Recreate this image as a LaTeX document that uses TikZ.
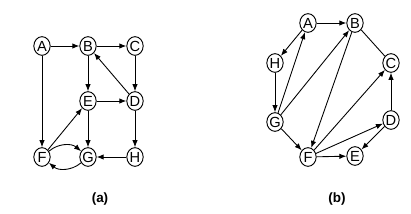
\documentclass[tikz,border=0pt]{standalone}
\usepackage{fontspec}
\setmainfont{Liberation Sans}
\usetikzlibrary{arrows.meta, shapes.geometric}

\begin{document}
\begin{tikzpicture}[
    x=0.3mm, y=-0.3mm,
    vert/.style = {ellipse, draw, line width=0.8pt, fill=white, minimum width=4.9mm, minimum height=5.6mm, inner sep=0pt, font=\fontsize{12.5}{12.5}\selectfont},
    arrow/.style = {draw, line width=0.75pt, -{Latex[length=6pt, width=4.6pt]}},
    line/.style = {draw, line width=0.75pt},
    caption/.style = {font=\fontsize{11.5}{11.5}\selectfont\bfseries}
]
    \useasboundingbox (0,0) rectangle (411,214);

    % Graph (a)
    \node (aA) [vert] at (42,46) {A};
    \node (aB) [vert] at (88,46) {B};
    \node (aC) [vert] at (135,46) {C};
    \node (aE) [vert] at (88,101) {E};
    \node (aD) [vert] at (135,101) {D};
    \node (aF) [vert] at (42,157) {F};
    \node (aG) [vert] at (88,157) {G};
    \node (aH) [vert] at (135,157) {H};

    \path [arrow] (aA) -- (aB);
    \path [arrow] (aB) -- (aC);
    \path [arrow] (aA) -- (aF);
    \path [arrow] (aB) -- (aE);
    \path [arrow] (aC) -- (aD);
    \path [arrow] (aD) -- (aB);
    \path [arrow] (aE) -- (aD);
    \path [arrow] (aE) -- (aG);
    \path [arrow] (aD) -- (aH);
    \path [arrow] (aH) -- (aG);
    \path [arrow] (aF) -- (aE);
    \path [arrow] (aF) to[bend left=40] (aG);
    \path [arrow] (aG) to[bend left=40] (aF);

    % Graph (b)
    \node (bA) [vert] at (308,23) {A};
    \node (bB) [vert] at (355,23) {B};
    \node (bC) [vert] at (391,63) {C};
    \node (bH) [vert] at (275,63) {H};
    \node (bG) [vert] at (275,122) {G};
    \node (bD) [vert] at (391,120) {D};
    \node (bF) [vert] at (308,157) {F};
    \node (bE) [vert] at (355,156) {E};

    \path [arrow] (bA) -- (bB);
    \path [arrow] (bA) -- (bH);
    \path [arrow] (bG) -- (bA);
    \path [arrow] (bH) -- (bG);
    \path [arrow] (bG) -- (bB);
    \path [arrow] (bB) -- (bF);
    \path [arrow] (bG) -- (bF);
    \path [arrow] (bF) -- (bC);
    \path [arrow] (bF) -- (bD);
    \path [arrow] (bF) -- (bE);
    \path [arrow] (bD) -- (bE);
    \path [arrow] (bD) -- (bC);
    \path [line] (bB) -- (bC);

    % Captions
    \node (capa) [caption] at (100,199) {(a)};
    \node (capb) [caption] at (337,199) {(b)};
\end{tikzpicture}
\end{document}
